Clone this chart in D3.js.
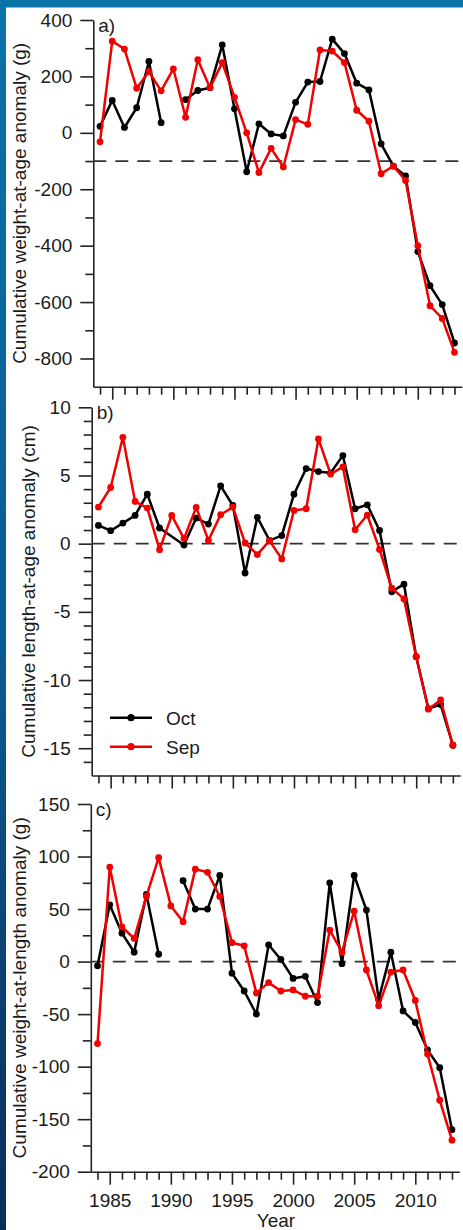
<!DOCTYPE html>
<html>
<head>
<meta charset="utf-8">
<script src="https://cdn.jsdelivr.net/npm/d3@7"></script>
<style>
  body { margin: 0; background: #fff; }
  svg { display: block; font-family: "Liberation Sans", Arial, sans-serif; }
</style>
</head>
<body>
<svg id="chart" width="463" height="1230"></svg>
<script>
// Data (null = no value for that year)
const years = [1984, 1985, 1986, 1987, 1988, 1989, 1990, 1991, 1992, 1993,
               1994, 1995, 1996, 1997, 1998, 1999, 2000, 2001, 2002, 2003,
               2004, 2005, 2006, 2007, 2008, 2009, 2010, 2011, 2012, 2013];

// a) cumulative weight-at-age anomaly (g)
const weightAgeOct = [23, 115, 19, 89, 253, 36, null, 118, 150, 160,
                      312, 85, -138, 32, -4, -11, 108, 180, 182, 332,
                      281, 176, 152, -39, -118, -153, -421, -542, -609, -745];
const weightAgeSep = [-32, 325, 297, 158, 217, 149, 227, 55, 259, 160,
                      249, 126, 0, -141, -55, -121, 47, 30, 294, 290,
                      249, 80, 41, -145, -118, -169, -400, -613, -658, -778];

// b) cumulative length-at-age anomaly (cm)
const lengthAgeOct = [1.34, 0.95, 1.51, 2.07, 3.63, 1.15, null, -0.1, 1.88, 1.44,
                      4.24, 2.8, -2.15, 1.93, 0.24, 0.59, 3.63, 5.51, 5.29, 5.19,
                      6.46, 2.56, 2.85, 0.97, -3.53, -2.97, -8.29, -12.1, -11.8, -14.78];
const lengthAgeSep = [2.68, 4.12, 7.8, 3.1, 2.61, -0.44, 2.07, 0.37, 2.66, 0.24,
                      2.12, 2.68, 0.05, -0.8, 0.22, -1.12, 2.44, 2.56, 7.68, 5.1,
                      5.63, 1.02, 2.1, -0.42, -3.27, -4.05, -8.29, -12.14, -11.46, -14.78];

// c) cumulative weight-at-length anomaly (g)
const weightLengthOct = [-4, 54, 27, 9, 64, 7, null, 77, 50, 50,
                         82, -11, -28, -50, 16, 2, -16, -14, -39, 75,
                         -2, 82, 49, -36, 9, -47, -58, -84, -101, -160];
const weightLengthSep = [-78, 90, 33, 22, 62, 99, 53, 38, 88, 85,
                         62, 18, 15, -30, -20, -28, -27, -33, -33, 30,
                         9, 48, -8, -42, -10, -8, -37, -88, -132, -170];

// tick labels
const yearTicks = [1985, 1990, 1995, 2000, 2005, 2010];
const weightAgeTicks = [-800, -600, -400, -200, 0, 200, 400];
const lengthAgeTicks = [-15, -10, -5, 0, 5, 10];
const weightLengthTicks = [-200, -150, -100, -50, 0, 50, 100, 150];

const seriesNames = ["Oct", "Sep"];
const colors = { Oct: "#000000", Sep: "#f20000" };

const svg = d3.select("#chart");
const fontSize = 19;

// blue slide frame
const defs = svg.append("defs");
const grad = defs.append("linearGradient")
    .attr("id", "sideGrad").attr("x1", 0).attr("y1", 0).attr("x2", 0).attr("y2", 1);
grad.append("stop").attr("offset", "0%").attr("stop-color", "#0a74aa");
grad.append("stop").attr("offset", "55%").attr("stop-color", "#0a5a90");
grad.append("stop").attr("offset", "100%").attr("stop-color", "#0b2c5a");

svg.append("rect").attr("x", 0).attr("y", 0).attr("width", 463).attr("height", 7.5)
    .attr("fill", "#0a74a9");
svg.append("rect").attr("x", 0).attr("y", 0).attr("width", 6).attr("height", 1230)
    .attr("fill", "url(#sideGrad)");

const panels = [
  { letter: "a)", top: 20, bottom: 386.7, left: 93.3, domain: [-900, 400],
    ticks: weightAgeTicks, minorStep: 100, ref: -100,
    label: "Cumulative weight-at-age anomaly (g)", labelX: 26,
    oct: weightAgeOct, sep: weightAgeSep, bridge: false, showYears: false },
  { letter: "b)", top: 407.3, bottom: 775.5, left: 91.7, domain: [-17, 10],
    ticks: lengthAgeTicks, minorStep: 1, ref: 0,
    label: "Cumulative length-at-age anomaly (cm)", labelX: 35,
    oct: lengthAgeOct, sep: lengthAgeSep, bridge: true, showYears: false },
  { letter: "c)", top: 804, bottom: 1171.7, left: 90.8, domain: [-200, 150],
    ticks: weightLengthTicks, minorStep: 25, ref: 0,
    label: "Cumulative weight-at-length anomaly (g)", labelX: 26,
    oct: weightLengthOct, sep: weightLengthSep, bridge: false, showYears: true }
];

const axisColor = "#222";
const plainNum = d => String(d);   // keep ASCII hyphen for negatives

panels.forEach((p, pi) => {
  const g = svg.append("g");

  const x = d3.scaleLinear().domain([1983.45, 2013.6]).range([p.left, p.left + 368.5]);
  const y = d3.scaleLinear().domain(p.domain).range([p.bottom, p.top]);

  // y minor ticks
  const minorY = d3.range(p.domain[0], p.domain[1] + 1e-9, p.minorStep)
      .filter(v => !p.ticks.some(t => Math.abs(t - v) < 1e-9) && v > p.domain[0]);
  g.append("g")
      .attr("transform", `translate(${p.left},0)`)
      .call(d3.axisLeft(y).tickValues(minorY).tickSize(8).tickSizeOuter(0).tickFormat(""))
      .call(a => a.select(".domain").remove());

  // y major ticks
  const yAxis = g.append("g")
      .attr("transform", `translate(${p.left},0)`)
      .call(d3.axisLeft(y).tickValues(p.ticks).tickSize(13).tickSizeOuter(0)
        .tickPadding(8).tickFormat(plainNum));
  yAxis.selectAll("text").attr("font-size", fontSize).attr("fill", "#1a1a1a")
      .attr("font-family", "Liberation Sans, Arial, sans-serif");

  // x minor ticks
  const minorX = years.filter(yr => yr % 5 !== 0);
  g.append("g")
      .attr("transform", `translate(0,${p.bottom})`)
      .call(d3.axisBottom(x).tickValues(minorX).tickSize(8).tickSizeOuter(0).tickFormat(""))
      .call(a => a.select(".domain").remove());

  // x major ticks
  const xAxis = g.append("g")
      .attr("transform", `translate(0,${p.bottom})`)
      .call(d3.axisBottom(x).tickValues(yearTicks).tickSize(13).tickSizeOuter(0)
        .tickPadding(9).tickFormat(p.showYears ? plainNum : ""));
  xAxis.selectAll("text").attr("font-size", fontSize).attr("fill", "#1a1a1a")
      .attr("font-family", "Liberation Sans, Arial, sans-serif");

  g.selectAll(".domain, .tick line").attr("stroke", axisColor).attr("stroke-width", 1.6);

  // reference dashed line
  g.append("line")
      .attr("x1", p.left).attr("x2", 463)
      .attr("y1", y(p.ref)).attr("y2", y(p.ref))
      .attr("stroke", "#333").attr("stroke-width", 1.8)
      .attr("stroke-dasharray", "13,9");

  // series
  [["Oct", p.oct], ["Sep", p.sep]].forEach(([name, vals]) => {
    let pts = years.map((yr, i) => ({ yr, v: vals[i] }));
    if (p.bridge) pts = pts.filter(d => d.v != null);
    const line = d3.line()
        .defined(d => d.v != null)
        .x(d => x(d.yr)).y(d => y(d.v));
    g.append("path")
        .datum(pts)
        .attr("fill", "none")
        .attr("stroke", colors[name])
        .attr("stroke-width", 2.5)
        .attr("stroke-linejoin", "round")
        .attr("d", line);
    g.selectAll(null)
        .data(pts.filter(d => d.v != null))
        .enter().append("circle")
        .attr("cx", d => x(d.yr)).attr("cy", d => y(d.v))
        .attr("r", 3.4)
        .attr("fill", colors[name]);
  });

  // panel letter
  g.append("text")
      .attr("x", p.left + 5).attr("y", p.top + 12)
      .attr("font-size", fontSize).attr("fill", "#1a1a1a")
      .text(p.letter);

  // y label
  g.append("text")
      .attr("transform", `translate(${p.labelX},${(p.top + p.bottom) / 2}) rotate(-90)`)
      .attr("text-anchor", "middle")
      .attr("font-size", fontSize).attr("fill", "#1a1a1a")
      .text(p.label);

  // legend in panel b
  if (pi === 1) {
    const legY = [717.7, 746.7];
    seriesNames.forEach((name, i) => {
      g.append("line")
          .attr("x1", 110).attr("x2", 152).attr("y1", legY[i]).attr("y2", legY[i])
          .attr("stroke", colors[name]).attr("stroke-width", 2.5);
      g.append("circle").attr("cx", 131).attr("cy", legY[i]).attr("r", 3.6)
          .attr("fill", colors[name]);
      g.append("text").attr("x", 166).attr("y", legY[i] + 7)
          .attr("font-size", fontSize).attr("fill", "#1a1a1a").text(name);
    });
  }
});

// x axis title
svg.append("text")
    .attr("x", 276).attr("y", 1226.5)
    .attr("text-anchor", "middle")
    .attr("font-size", fontSize).attr("fill", "#1a1a1a")
    .text("Year");
</script>
</body>
</html>
